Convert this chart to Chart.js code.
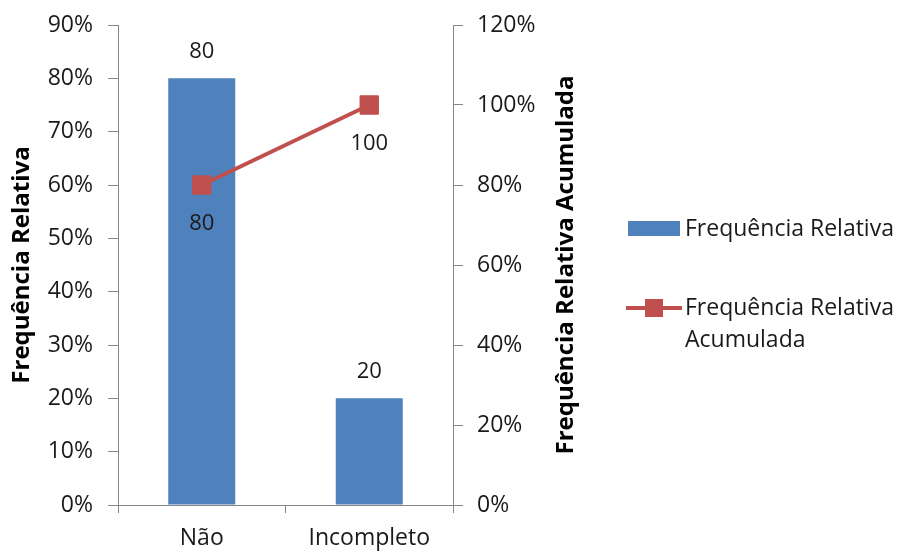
<!DOCTYPE html>
<html>
<head>
<meta charset="utf-8">
<script src="https://cdn.jsdelivr.net/npm/chart.js@4/dist/chart.umd.min.js"></script>
<style>
  html, body { margin: 0; padding: 0; background: #fff; }
  #wrap { width: 899px; height: 551px; position: relative; }
</style>
</head>
<body>
<div id="wrap"><canvas id="c"></canvas></div>
<script>
// Categories and series
const categories = ['Não', 'Incompleto'];
const relativeFreq = [80, 20];          // Frequência Relativa (%)
const cumulativeFreq = [80, 100];       // Frequência Relativa Acumulada (%)

// Axis ranges / ticks
const leftTicks = { min: 0, max: 90, step: 10 };
const rightTicks = { min: 0, max: 120, step: 20 };

// Titles and legend texts
const leftTitle = 'Frequência Relativa';
const rightTitle = 'Frequência Relativa Acumulada';
const barLegend = ['Frequência Relativa'];
const lineLegend = ['Frequência Relativa', 'Acumulada'];

const BLUE = '#4F81BD';
const RED = '#C0504D';
const AXIS = '#868686';
const TEXT = '#1a1a1a';
const FONT = '"Open Sans", sans-serif';

// Value labels above bars and below line points
const valueLabels = {
  id: 'valueLabels',
  afterDatasetsDraw(chart) {
    const ctx = chart.ctx;
    ctx.save();
    ctx.font = '22px ' + FONT;
    ctx.fillStyle = TEXT;
    ctx.textAlign = 'center';
    ctx.textBaseline = 'middle';
    chart.getDatasetMeta(0).data.forEach((el, i) => {
      ctx.fillText(String(relativeFreq[i]), el.x, el.y - 27);
    });
    chart.getDatasetMeta(1).data.forEach((el, i) => {
      ctx.fillText(String(cumulativeFreq[i]), el.x, el.y + 39);
    });
    ctx.restore();
  }
};

// Rotated axis titles (both read bottom to top)
const axisTitles = {
  id: 'axisTitles',
  afterDraw(chart) {
    const ctx = chart.ctx;
    const a = chart.chartArea;
    const cy = (a.top + a.bottom) / 2;
    ctx.save();
    ctx.font = 'bold 24px ' + FONT;
    ctx.fillStyle = '#000';
    ctx.textAlign = 'center';
    ctx.textBaseline = 'middle';
    [[22, leftTitle], [566, rightTitle]].forEach(([x, t]) => {
      ctx.save();
      ctx.translate(x, cy);
      ctx.rotate(-Math.PI / 2);
      ctx.fillText(t, 0, 0);
      ctx.restore();
    });
    ctx.restore();
  }
};

// Legend at the right side
const sideLegend = {
  id: 'sideLegend',
  afterDraw(chart) {
    const ctx = chart.ctx;
    ctx.save();
    // bar entry
    ctx.fillStyle = BLUE;
    ctx.fillRect(628, 221, 52, 15);
    ctx.font = '23px ' + FONT;
    ctx.fillStyle = TEXT;
    ctx.textAlign = 'left';
    ctx.textBaseline = 'middle';
    ctx.fillText(barLegend[0], 685, 229);
    // line entry
    ctx.strokeStyle = RED;
    ctx.lineWidth = 4;
    ctx.beginPath();
    ctx.moveTo(626, 308);
    ctx.lineTo(682, 308);
    ctx.stroke();
    ctx.fillStyle = RED;
    ctx.fillRect(645, 299, 18, 18);
    ctx.fillStyle = TEXT;
    ctx.fillText(lineLegend[0], 685, 308);
    ctx.fillText(lineLegend[1], 685, 340);
    ctx.restore();
  }
};

// Fixed scale sizes so the plot area keeps its place
const fitVertical = w => s => { s.width = w; s.paddingTop = 0; s.paddingBottom = 0; };

new Chart(document.getElementById('c'), {
  data: {
    labels: categories,
    datasets: [
      {
        type: 'bar',
        label: barLegend[0],
        data: relativeFreq,
        backgroundColor: BLUE,
        yAxisID: 'y',
        barPercentage: 0.4,
        categoryPercentage: 1.0,
        order: 2
      },
      {
        type: 'line',
        label: lineLegend.join(' '),
        data: cumulativeFreq,
        borderColor: RED,
        backgroundColor: RED,
        borderWidth: 4,
        pointStyle: 'rect',
        pointRadius: 13,
        pointBorderWidth: 1,
        pointBackgroundColor: RED,
        pointBorderColor: RED,
        yAxisID: 'y1',
        order: 1
      }
    ]
  },
  options: {
    responsive: true,
    maintainAspectRatio: false,
    animation: false,
    layout: { padding: { top: 25, left: 0, right: 0, bottom: 0 } },
    plugins: { legend: { display: false }, tooltip: { enabled: false } },
    scales: {
      x: {
        type: 'category',
        position: 'bottom',
        offset: true,
        grid: { offset: true, drawOnChartArea: false, drawTicks: true, tickLength: 8, color: AXIS, lineWidth: 1 },
        border: { display: true, color: AXIS, width: 1 },
        ticks: { font: { family: FONT, size: 23 }, color: TEXT, padding: 12, maxRotation: 0 },
        afterFit: s => { s.height = 46; }
      },
      y: {
        position: 'left',
        min: leftTicks.min, max: leftTicks.max,
        grid: { drawOnChartArea: false, drawTicks: true, tickLength: 10, color: AXIS },
        border: { display: true, color: AXIS, width: 1 },
        ticks: { stepSize: leftTicks.step, callback: v => v + '%', font: { family: FONT, size: 23 }, color: TEXT, padding: 15 },
        afterFit: fitVertical(118)
      },
      y1: {
        position: 'right',
        min: rightTicks.min, max: rightTicks.max,
        grid: { drawOnChartArea: false, drawTicks: true, tickLength: 10, color: AXIS },
        border: { display: true, color: AXIS, width: 1 },
        ticks: { stepSize: rightTicks.step, callback: v => v + '%', font: { family: FONT, size: 23 }, color: TEXT, padding: 14 },
        afterFit: fitVertical(446)
      }
    }
  },
  plugins: [valueLabels, axisTitles, sideLegend]
});
</script>
</body>
</html>
